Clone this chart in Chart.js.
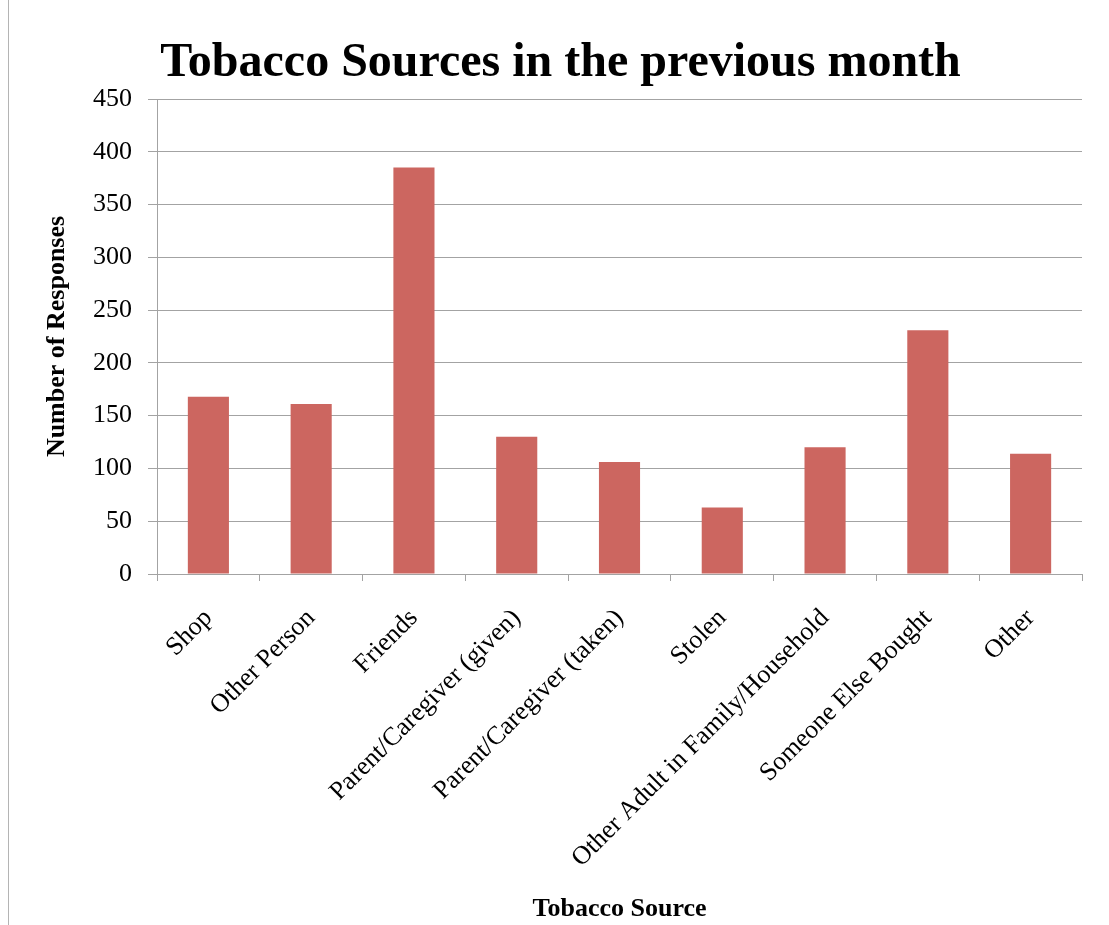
<!DOCTYPE html>
<html>
<head>
<meta charset="utf-8">
<title>Tobacco Sources in the previous month</title>
<script src="https://cdn.jsdelivr.net/npm/chart.js@4.4.1/dist/chart.umd.min.js"></script>
<style>
    body { margin: 0; background: #fff; }
    .wrap { position: relative; width: 1109px; height: 925px; }
    .frame { position: absolute; left: 8px; top: 0; width: 1px; height: 925px; background: #b4b4b4; }
    canvas { position: absolute; left: 0; top: 0; }
</style>
</head>
<body>
<div class="wrap">
    <div class="frame"></div>
    <canvas id="sourcesChart" width="1109" height="925"></canvas>
</div>
<script>
// Chart data
const sources = [
    'Shop',
    'Other Person',
    'Friends',
    'Parent/Caregiver (given)',
    'Parent/Caregiver (taken)',
    'Stolen',
    'Other Adult in Family/Household',
    'Someone Else Bought',
    'Other'
];
const responses = [168, 161, 385, 130, 106, 63, 120, 231, 114];
const yTicks = [0, 50, 100, 150, 200, 250, 300, 350, 400, 450];

const serif = "'Liberation Serif', 'Times New Roman', serif";
const gridGray = '#a3a3a3';

new Chart(document.getElementById('sourcesChart'), {
    type: 'bar',
    data: {
        labels: sources,
        datasets: [{
            label: 'Number of Responses',
            data: responses,
            backgroundColor: '#cc6660',
            borderWidth: 0,
            barPercentage: 0.4,
            categoryPercentage: 1.0
        }]
    },
    options: {
        responsive: false,
        animation: false,
        layout: {
            padding: { left: 39, right: 27, top: 0, bottom: 0 }
        },
        plugins: {
            legend: { display: false },
            tooltip: { enabled: false },
            title: {
                display: true,
                text: 'Tobacco Sources in the previous month',
                color: '#000',
                font: { family: serif, size: 48, weight: 'bold', lineHeight: 1.2 },
                padding: { top: 35, bottom: 6.4 }
            }
        },
        scales: {
            x: {
                afterFit: (scale) => { scale.height = 351; },
                grid: {
                    offset: true,
                    drawOnChartArea: false,
                    drawTicks: true,
                    tickLength: 7,
                    color: gridGray
                },
                border: { color: gridGray },
                ticks: {
                    autoSkip: false,
                    maxRotation: 45,
                    minRotation: 45,
                    padding: 22,
                    color: '#000',
                    font: { family: serif, size: 26 }
                },
                title: {
                    display: true,
                    text: 'Tobacco Source',
                    color: '#000',
                    font: { family: serif, size: 26, weight: 'bold', lineHeight: 1.2 },
                    padding: { top: 4, bottom: 0 }
                }
            },
            y: {
                min: 0,
                max: yTicks[yTicks.length - 1],
                afterFit: (scale) => { scale.width = 118; },
                afterBuildTicks: (scale) => {
                    scale.ticks = yTicks.map(v => ({ value: v }));
                },
                grid: {
                    color: gridGray,
                    tickLength: 9
                },
                border: { color: gridGray },
                ticks: {
                    padding: 16,
                    color: '#000',
                    font: { family: serif, size: 26 }
                },
                title: {
                    display: true,
                    text: 'Number of Responses',
                    color: '#000',
                    font: { family: serif, size: 26, weight: 'bold', lineHeight: 1.2 },
                    padding: { top: 3, bottom: 0 }
                }
            }
        }
    }
});
</script>
</body>
</html>
